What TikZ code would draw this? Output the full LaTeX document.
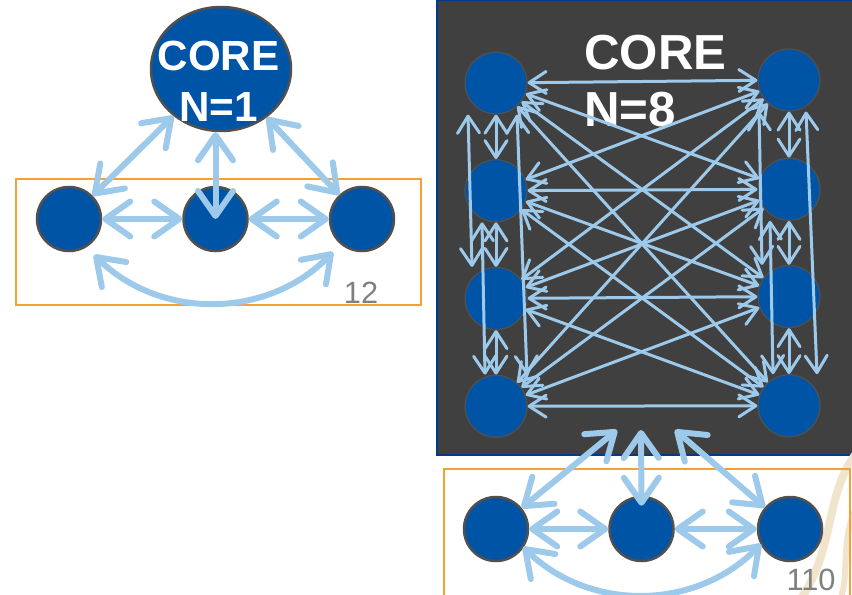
\documentclass[tikz,border=0pt]{standalone}
\usepackage{fontspec}
\setsansfont{Liberation Sans}
\usepackage{xcolor}
\usepackage{tikz}
\usetikzlibrary{
  positioning,
  arrows.meta,
  shapes.geometric,
  calc
}
\definecolor{coreblue}{RGB}{0,84,166}
\definecolor{linkblue}{RGB}{157,201,235}
\definecolor{boxgray}{RGB}{64,64,64}
\definecolor{boxedge}{RGB}{0,60,140}
\definecolor{rimgray}{RGB}{80,80,80}
\definecolor{frameorange}{RGB}{245,160,50}
\definecolor{numgray}{RGB}{128,128,128}
\definecolor{flame}{RGB}{240,228,204}

\begin{document}
\begin{tikzpicture}[
  font=\sffamily,
  cpu/.style={
    circle,
    draw=rimgray,
    line width=0.5mm,
    fill=coreblue,
    minimum size=1.28cm,
    inner sep=0pt
  },
  subcpu/.style={
    circle,
    draw=rimgray,
    line width=0.25mm,
    fill=coreblue,
    minimum size=1.24cm,
    inner sep=0pt
  },
  coreblob/.style={
    ellipse,
    draw=rimgray,
    line width=0.5mm,
    fill=coreblue,
    minimum width=2.8cm,
    minimum height=2.48cm,
    inner sep=0pt
  },
  coretext/.style={
    text=white,
    inner sep=0pt,
    font=\sffamily\bfseries\fontsize{24}{29}\selectfont
  },
  frame/.style={
    rectangle,
    draw=frameorange,
    line width=0.3mm,
    inner sep=0pt
  },
  corebox/.style={
    rectangle,
    draw=boxedge,
    fill=boxgray,
    line width=0.5mm,
    inner sep=0pt
  },
  pagenum/.style={
    text=numgray,
    inner sep=0pt,
    font=\sffamily\fontsize{17.5}{20}\selectfont
  },
  arrow/.style={
    {Straight Barb[length=5mm,width=7mm,round]}-{Straight Barb[length=5mm,width=7mm,round]},
    line width=1.2mm,
    draw=linkblue
  },
  thinarrow/.style={
    {Straight Barb[length=3.4mm,width=4.4mm,round]}-{Straight Barb[length=3.4mm,width=4.4mm,round]},
    line width=0.6mm,
    draw=linkblue
  }
]

\useasboundingbox (0,0) rectangle (17.04,-11.9);
\fill[white] (0,0) rectangle (17.04,-11.9);

% Background
\node[corebox, minimum width=8.36cm, minimum height=9.1cm] (box8) at (12.92,-4.55) {};
\draw[flame, line width=1.6mm, line cap=round] (17.1,-9.1) .. controls (16.5,-9.9) and (16.7,-11.0) .. (16.0,-12.0);
\draw[flame, line width=1.2mm, line cap=round] (17.1,-10.2) .. controls (16.8,-10.9) and (17.0,-11.5) .. (16.8,-12.0);
\node[frame, minimum width=8.1cm, minimum height=2.52cm] (frame1) at (4.37,-4.84) {};
\node[frame, minimum width=8.12cm, minimum height=2.82cm] (frame8) at (12.94,-10.79) {};

% Single core
\node[coreblob] (core1) at (4.42,-1.38) {};
\node[coretext, align=center, anchor=north] (core1txt) at (4.37,-0.82) {CORE\\N=1};
\node[cpu] (l1) at (1.38,-4.38) {};
\node[cpu, right=1.6cm of l1] (m1) {};
\node[cpu, right=1.6cm of m1] (r1) {};
\node[pagenum, anchor=base] (num1) at (7.22,-6.06) {12};

% Eight cores
\node[coretext, font=\sffamily\bfseries\fontsize{28}{32.5}\selectfont, align=left, anchor=north west] (core8) at (11.68,-0.70) {CORE\\N=8};
\node[subcpu] (L1) at (9.92,-1.66) {};
\node[subcpu, below=0.89cm of L1] (L2) {};
\node[subcpu, below=0.89cm of L2] (L3) {};
\node[subcpu, below=0.89cm of L3] (L4) {};
\node[subcpu] (R1) at (15.78,-1.60) {};
\node[subcpu, below=0.92cm of R1] (R2) {};
\node[subcpu, below=0.88cm of R2] (R3) {};
\node[subcpu, below=0.92cm of R3] (R4) {};

% Attached cores
\node[cpu] (B1) at (9.92,-10.58) {};
\node[cpu, right=1.58cm of B1] (B2) {};
\node[cpu, right=1.64cm of B2] (B3) {};
\node[pagenum, anchor=base] (num8) at (16.22,-11.8) {110};
\coordinate (a1) at (12.34,-8.6);
\coordinate (a2) at (12.82,-8.6);
\coordinate (a3) at (13.5,-8.6);

% Links, single core
\draw[arrow] (core1) -- (l1);
\draw[arrow] (core1.south -| m1.center) -- (m1.center);
\draw[arrow] (core1) -- (r1);
\draw[arrow] (l1) -- (m1);
\draw[arrow] (m1) -- (r1);
\draw[arrow] ($(l1.center)+(0.5,-0.72)$) to[bend right=45] ($(r1.center)+(-0.58,-0.66)$);

% Links, eight cores
\foreach \i in {1,...,4}{
  \foreach \j in {1,...,4}{
    \draw[thinarrow] (L\i) -- (R\j);
  }
}
\draw[thinarrow] (L1.south) -- (L2.north);
\draw[thinarrow] (L2.south) -- (L3.north);
\draw[thinarrow] (L3.south) -- (L4.north);
\draw[thinarrow] ([xshift=-0.56cm]L1.south) -- ([xshift=-0.48cm]L3.north);
\draw[thinarrow] ([xshift=-0.28cm]L2.south) -- ([xshift=-0.22cm]L4.north);
\draw[thinarrow] ([xshift=0.42cm]L1.south) -- ([xshift=0.62cm]L4.north);
\draw[thinarrow] (R1.south) -- (R2.north);
\draw[thinarrow] (R2.south) -- (R3.north);
\draw[thinarrow] (R3.south) -- (R4.north);
\draw[thinarrow] ([xshift=-0.6cm]R1.south) -- ([xshift=-0.54cm]R3.north);
\draw[thinarrow] ([xshift=-0.38cm]R2.south) -- ([xshift=-0.32cm]R4.north);
\draw[thinarrow] ([xshift=0.34cm]R1.south) -- ([xshift=0.56cm]R4.north);

% Links, attached cores
\draw[arrow] (a1) -- (B1);
\draw[arrow] (a2) -- ([yshift=-0.2cm]B2.north);
\draw[arrow] (a3) -- (B3);
\draw[arrow] (B1) -- (B2);
\draw[arrow] (B2) -- (B3);
\draw[arrow] ($(B1.center)+(0.54,-0.36)$) to[bend right=45] ($(B3.center)+(-0.58,-0.3)$);

\end{tikzpicture}
\end{document}
